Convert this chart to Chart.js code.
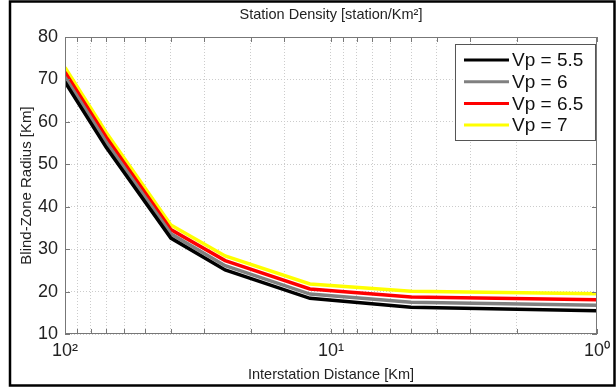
<!DOCTYPE html>
<html>
<head>
<meta charset="utf-8">
<script src="https://cdn.jsdelivr.net/npm/chart.js@4"></script>
<style>
  html, body { margin: 0; padding: 0; background: #fff; }
  #wrap { width: 616px; height: 387px; }
</style>
</head>
<body>
<div id="wrap"><canvas id="c" width="616" height="387"></canvas></div>
<script>
// interstation distance [Km] where the curves have their vertices
const distances = [100, 70, 40, 25, 12, 5, 1];
// blind-zone radius [Km] for each P-wave velocity
const vp55 = [69.4, 54.0, 32.6, 25.1, 18.4, 16.3, 15.5];
const vp6  = [70.5, 55.2, 33.6, 26.1, 19.4, 17.5, 16.8];
const vp65 = [71.7, 56.4, 34.6, 27.3, 20.6, 18.7, 18.1];
const vp7  = [72.8, 57.5, 35.7, 28.4, 21.8, 20.1, 19.5];
const seriesLabels = ['Vp = 5.5', 'Vp = 6', 'Vp = 6.5', 'Vp = 7'];
const seriesColors = ['#000000', '#808080', '#ff0000', '#ffff00'];
const xLabels = { 100: '10²', 10: '10¹', 1: '10⁰' };
const topTitle = 'Station Density [station/Km²]';

const FONT = "'Liberation Sans', Arial, sans-serif";

function pts(vals) {
    return distances.map((d, i) => ({ x: d, y: vals[i] }));
}

// frame, inner ticks, title over the plot and the boxed legend
const decor = {
    id: 'decor',
    beforeDraw(chart) {
        const c = chart.ctx;
        c.save();
        c.fillStyle = '#fff';
        c.fillRect(0, 0, chart.width, chart.height);
        c.restore();
    },
    afterDraw(chart) {
        const c = chart.ctx;
        const a = chart.chartArea;
        const xs = chart.scales.x, ys = chart.scales.y;
        c.save();
        c.strokeStyle = '#777';
        c.lineWidth = 1;
        c.strokeRect(a.left + 0.5, a.top + 0.5, a.right - a.left - 1, a.bottom - a.top - 1);
        c.beginPath();
        xs.ticks.forEach(t => {
            const px = Math.round(xs.getPixelForValue(t.value)) + 0.5;
            c.moveTo(px, a.bottom); c.lineTo(px, a.bottom - 5);
            c.moveTo(px, a.top); c.lineTo(px, a.top + 5);
        });
        ys.ticks.forEach(t => {
            const py = Math.round(ys.getPixelForValue(t.value)) + 0.5;
            c.moveTo(a.left, py); c.lineTo(a.left + 5, py);
            c.moveTo(a.right, py); c.lineTo(a.right - 5, py);
        });
        c.stroke();

        // title centred over the axes
        c.fillStyle = '#222';
        c.font = '14.5px ' + FONT;
        c.textAlign = 'center';
        c.textBaseline = 'middle';
        c.fillText(topTitle, (a.left + a.right) / 2, 15);

        // legend
        const bx = a.right - 142, by = a.top + 7, bw = 140, bh = 96;
        c.fillStyle = '#fff';
        c.fillRect(bx, by, bw, bh);
        c.strokeStyle = '#555';
        c.strokeRect(bx + 0.5, by + 0.5, bw, bh);
        c.font = '19px ' + FONT;
        c.textAlign = 'left';
        chart.data.datasets.forEach((ds, i) => {
            const y = by + 16 + i * 21.7;
            c.strokeStyle = ds.borderColor;
            c.lineWidth = 3;
            c.beginPath();
            c.moveTo(bx + 9, y); c.lineTo(bx + 54, y);
            c.stroke();
            c.fillStyle = '#111';
            c.fillText(ds.label, bx + 57, y + 1);
        });

        // outer black frame
        c.strokeStyle = '#000';
        c.lineWidth = 2.5;
        c.strokeRect(10, 1.5, chart.width - 11.5, chart.height - 3);
        c.restore();
    }
};

new Chart(document.getElementById('c'), {
    type: 'line',
    data: {
        datasets: [vp55, vp6, vp65, vp7].map((v, i) => ({
            label: seriesLabels[i],
            data: pts(v),
            borderColor: seriesColors[i],
            backgroundColor: seriesColors[i],
            borderWidth: 3.5,
            pointRadius: 0,
            tension: 0,
            fill: false
        }))
    },
    options: {
        responsive: false,
        animation: false,
        layout: { autoPadding: false, padding: { left: 0, right: 13, top: 37, bottom: 0 } },
        plugins: {
            legend: { display: false },
            tooltip: { enabled: false },
            title: { display: false }
        },
        scales: {
            x: {
                type: 'logarithmic',
                reverse: true,
                min: 1,
                max: 100,
                afterFit: s => { s.height = 53; },
                border: { display: false, dash: [1, 2] },
                grid: { color: '#cccccc', drawTicks: false },
                ticks: {
                    autoSkip: false,
                    maxRotation: 0,
                    padding: 6,
                    color: '#222',
                    font: { family: FONT, size: 18 },
                    callback: v => xLabels[v] || ''
                },
                title: {
                    display: true,
                    text: 'Interstation Distance [Km]',
                    color: '#222',
                    font: { family: FONT, size: 14.5 },
                    padding: { top: 0, bottom: 3 }
                }
            },
            y: {
                min: 10,
                max: 80,
                afterFit: s => { s.width = 65; },
                border: { display: false, dash: [1, 2] },
                grid: { color: '#cccccc', drawTicks: false },
                ticks: {
                    stepSize: 10,
                    padding: 7,
                    color: '#222',
                    font: { family: FONT, size: 18 }
                },
                title: {
                    display: true,
                    text: 'Blind-Zone Radius [Km]',
                    color: '#222',
                    font: { family: FONT, size: 15 },
                    padding: { top: 18, bottom: 0 }
                }
            }
        }
    },
    plugins: [decor]
});
</script>
</body>
</html>
